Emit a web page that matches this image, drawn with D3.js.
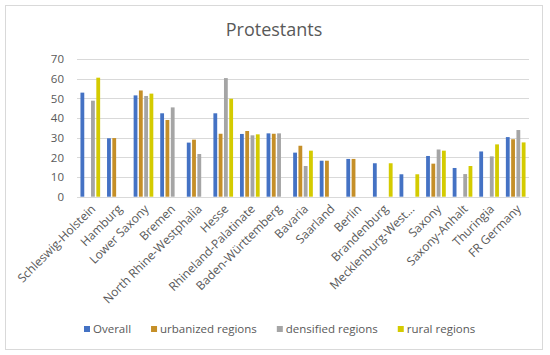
<!DOCTYPE html>
<html>
<head>
<meta charset="utf-8">
<script src="https://cdn.jsdelivr.net/npm/d3@7"></script>
<style>
  body { margin: 0; background: #fff; }
  text { font-family: "Open Sans", "Noto Sans", sans-serif; fill: #595959; }
</style>
</head>
<body>
<div id="chart"></div>
<script>
// states (x categories)
const states = ['Schleswig-Holstein', 'Hamburg', 'Lower Saxony', 'Bremen', 'North Rhine-Westphalia',
    'Hesse', 'Rhineland-Palatinate', 'Baden-Württemberg', 'Bavaria', 'Saarland', 'Berlin',
    'Brandenburg', 'Mecklenburg-West...', 'Saxony', 'Saxony-Anhalt', 'Thuringia', 'FR Germany']

const seriesNames = ['Overall', 'urbanized regions', 'densified regions', 'rural regions']

// null = no bar
const overall    = [52.9, 29.7, 51.5, 42.4, 27.5, 42.4, 31.9, 32.2, 22.4, 18.3, 19.2, 17.0, 11.4, 20.7, 14.6, 23.0, 30.3]
const urbanized  = [null, 29.8, 54.0, 39.0, 29.0, 32.0, 33.4, 32.0, 25.9, 18.3, 19.2, null, null, 16.8, null, null, 29.2]
const densified  = [48.8, null, 51.2, 45.4, 21.7, 60.3, 31.2, 32.2, 15.6, null, null, null, null, 24.0, 11.5, 20.5, 33.9]
const rural      = [60.5, null, 52.4, null, null, 49.8, 31.7, null, 23.4, null, null, 17.0, 11.4, 23.4, 15.6, 26.6, 27.6]

const yTicks = [0, 10, 20, 30, 40, 50, 60, 70]

const colors = ['#4472C4', '#C58F28', '#A5A5A5', '#D4CB00']

let width = 550,
    height = 355

let svg = d3.select('#chart')
    .append('svg')
    .attr('width', width)
    .attr('height', height)

// chart border
svg.append('rect')
    .attr('x', 5.5).attr('y', 5.5)
    .attr('width', 537).attr('height', 344)
    .attr('fill', '#fff')
    .attr('stroke', '#d9d9d9')

svg.append('text')
    .attr('x', 274).attr('y', 36)
    .attr('text-anchor', 'middle')
    .style('font-size', '18px')
    .text('Protestants')

let plot = { left: 77, right: 529, top: 59, bottom: 196.7 }

let x = d3.scaleBand()
    .domain(states)
    .range([plot.left, plot.right])
    .paddingInner(0.26)
    .paddingOuter(0.13)

let xInner = d3.scaleBand()
    .domain(d3.range(4))
    .range([0, x.bandwidth()])
    .paddingInner(0.28)

let y = d3.scaleLinear()
    .domain([0, 70])
    .range([plot.bottom, plot.top])

// gridlines
svg.append('g')
    .selectAll('line')
    .data(yTicks)
    .enter()
    .append('line')
    .attr('x1', plot.left).attr('x2', plot.right)
    .attr('y1', d => Math.round(y(d)) + 0.5)
    .attr('y2', d => Math.round(y(d)) + 0.5)
    .attr('stroke', '#d9d9d9')

// y axis labels
let yAxis = svg.append('g')
    .attr('transform', 'translate(' + (plot.left - 13) + ',0)')
    .call(d3.axisLeft(y).tickValues(yTicks).tickSize(0).tickPadding(0))
yAxis.select('.domain').remove()
yAxis.selectAll('text')
    .style('font-size', '11.5px')
    .attr('font-family', null)
    .attr('fill', null)

// bars
const allSeries = [overall, urbanized, densified, rural]
let groups = svg.append('g')
    .selectAll('g')
    .data(states)
    .enter()
    .append('g')
    .attr('transform', d => 'translate(' + x(d) + ',0)')

groups.selectAll('rect')
    .data((d, i) => allSeries.map((s, k) => ({ k: k, v: s[i] })).filter(e => e.v !== null))
    .enter()
    .append('rect')
    .attr('x', d => xInner(d.k))
    .attr('width', xInner.bandwidth())
    .attr('y', d => y(d.v))
    .attr('height', d => y(0) - y(d.v))
    .attr('fill', d => colors[d.k])

// x labels, rotated
svg.append('g')
    .selectAll('text')
    .data(states)
    .enter()
    .append('text')
    .attr('transform', d => 'translate(' + (x(d) + x.bandwidth() / 2 + 3) + ',' + (plot.bottom + 10) + ') rotate(-45)')
    .attr('text-anchor', 'end')
    .attr('dy', '0.35em')
    .style('font-size', '12px')
    .text(d => d)

// legend
let legend = svg.append('g')
let lx = 84
seriesNames.forEach(function (name, i) {
    let item = legend.append('g').attr('transform', 'translate(' + lx + ',329)')
    item.append('rect')
        .attr('x', 0).attr('y', -3)
        .attr('width', 6).attr('height', 6)
        .attr('fill', colors[i])
    let t = item.append('text')
        .attr('x', 9).attr('dy', '0.35em')
        .style('font-size', '11.5px')
        .text(name)
    lx += 9 + t.node().getComputedTextLength() + 20
})
</script>
</body>
</html>
